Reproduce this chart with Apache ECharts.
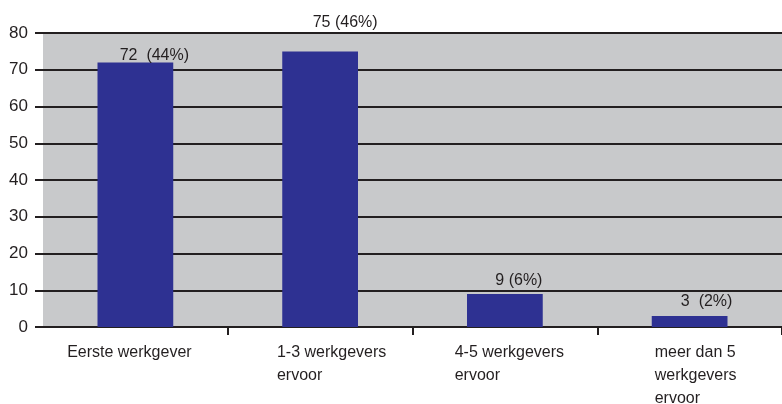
<!DOCTYPE html>
<html>
<head>
<meta charset="utf-8">
<script src="https://cdn.jsdelivr.net/npm/echarts@6/dist/echarts.min.js"></script>
<style>html,body{margin:0;padding:0;background:#fff}#c{width:782px;height:404px}</style>
</head>
<body>
<div id="c"></div>
<script>
const categories = ['Eerste werkgever', '1-3 werkgevers\nervoor', '4-5 werkgevers\nervoor', 'meer dan 5\nwerkgevers\nervoor'];
const counts = [72, 75, 9, 3];
const percents = [44, 46, 6, 2];
const labelTexts = ['72  (44%)', '75 (46%)', '9 (6%)', '3  (2%)'];
const yTicks = [0, 10, 20, 30, 40, 50, 60, 70, 80];

// label placement (layout only)
const labelDist = [-1, 21, 5.5, 6];
const labelDx = [19, 25, 14, 17];
const catPad = [[0, 12, 0, 0], [0, 0, 0, 23], [0, 0, 0, 9], [0, 0, 0, 12]];

const FONT = '"Liberation Sans", Arial, sans-serif';
const TXT = '#231f20';

const rich = {};
catPad.forEach(function (p, i) {
  rich['c' + i] = {align: 'left', fontFamily: FONT, fontSize: 16, color: TXT, lineHeight: 23, padding: p};
});

const chart = echarts.init(document.getElementById('c'), null, {renderer: 'canvas'});
chart.setOption({
  animation: false,
  grid: {left: 43, right: 0, top: 33, bottom: 77, show: true, backgroundColor: '#c8c9cb', borderWidth: 0,
         containLabel: false, outerBoundsMode: 'none'},
  xAxis: {
    type: 'category',
    data: categories,
    axisLine: {show: true, lineStyle: {color: TXT, width: 2}},
    axisTick: {show: true, length: 8, lineStyle: {color: TXT, width: 2}, interval: function (i) { return i > 0; }},
    axisLabel: {
      margin: 14,
      interval: 0,
      formatter: function (v, idx) { return v.split('\n').map(function (l) { return '{c' + idx + '|' + l + '}'; }).join('\n'); },
      rich: rich
    }
  },
  yAxis: {
    type: 'value',
    min: 0, max: 80, interval: 10,
    axisLine: {show: false},
    axisTick: {show: true, length: 8, lineStyle: {color: TXT, width: 2}},
    splitLine: {show: true, lineStyle: {color: TXT, width: 2}},
    axisLabel: {margin: 15, fontFamily: FONT, fontSize: 17, color: TXT, formatter: function (v) { return yTicks.indexOf(v) >= 0 ? String(v) : ''; }}
  },
  series: [{
    type: 'bar',
    barWidth: '41%',
    itemStyle: {color: '#2e3192'},
    data: counts.map(function (v, i) {
      return {
        value: v,
        label: {
          show: true, position: 'top', distance: labelDist[i], offset: [labelDx[i], 0],
          formatter: labelTexts[i],
          fontFamily: FONT, fontSize: 16, color: TXT
        }
      };
    })
  }]
});
</script>
</body>
</html>
